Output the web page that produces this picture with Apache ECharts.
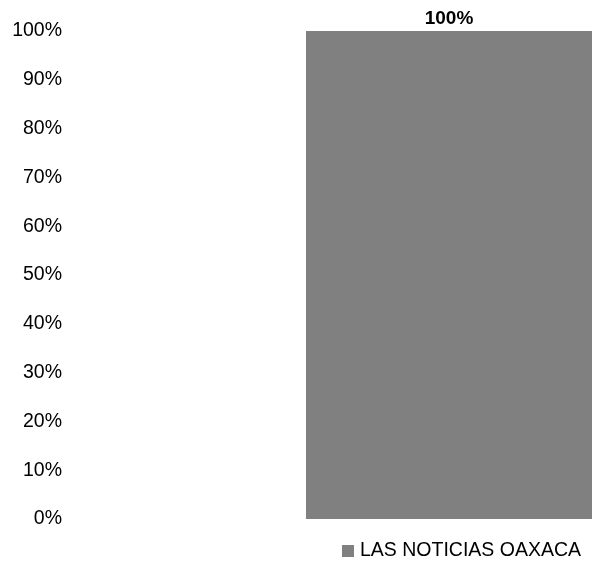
<!DOCTYPE html>
<html>
<head>
<meta charset="utf-8">
<script src="https://cdn.jsdelivr.net/npm/echarts@6/dist/echarts.min.js"></script>
<style>
  html, body { margin: 0; padding: 0; background: #fff; }
  #chart { width: 592px; height: 561px; }
</style>
</head>
<body>
<div id="chart"></div>
<script>
// datos del gráfico
const categories = ['LAS NOTICIAS OAXACA'];
const seriesName = 'LAS NOTICIAS OAXACA';
const values = [100];
const yTicks = [0, 10, 20, 30, 40, 50, 60, 70, 80, 90, 100];

const FONT = '"Liberation Sans", Arial, sans-serif';

const myChart = echarts.init(document.getElementById('chart'));
myChart.setOption({
    animation: false,
    textStyle: { fontFamily: FONT },
    legend: {
        data: [seriesName],
        left: 342,
        top: 541,
        padding: 0,
        itemWidth: 12,
        itemHeight: 12,
        itemGap: 5,
        icon: 'rect',
        textStyle: { fontFamily: FONT, fontSize: 19.5, color: '#000', padding: [0, 0, 0, 1] }
    },
    grid: {
        left: 306,
        right: -10,
        top: 31,
        bottom: 42,
        containLabel: false
    },
    xAxis: {
        type: 'category',
        data: categories,
        axisLine: { show: false },
        axisTick: { show: false },
        axisLabel: { show: false }
    },
    yAxis: {
        type: 'value',
        min: yTicks[0],
        max: yTicks[yTicks.length - 1],
        interval: 10,
        splitLine: { show: false },
        axisLine: { show: false },
        axisTick: { show: false },
        axisLabel: {
            margin: 244,
            fontFamily: FONT,
            fontSize: 19.5,
            color: '#000',
            formatter: '{value}%'
        }
    },
    series: [
        {
            name: seriesName,
            type: 'bar',
            data: values,
            barWidth: '100%',
            itemStyle: { color: '#808080' },
            label: {
                show: true,
                position: 'top',
                distance: 3,
                formatter: '{c}%',
                fontFamily: FONT,
                fontSize: 19,
                fontWeight: 'bold',
                color: '#000'
            }
        }
    ]
});
</script>
</body>
</html>
